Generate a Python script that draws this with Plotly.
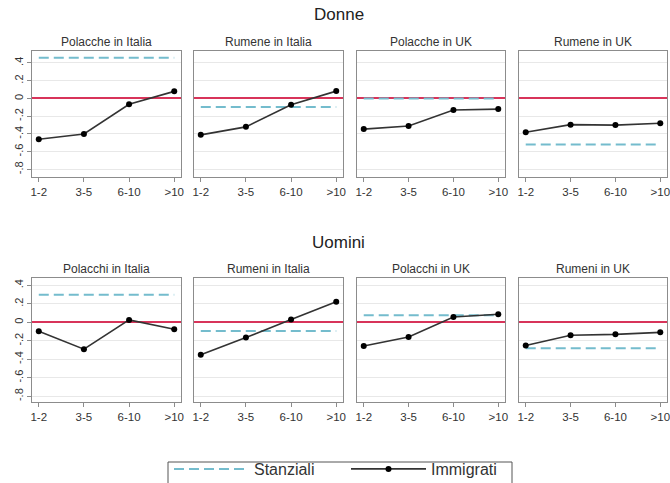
import plotly.graph_objects as go

# ---- data ----
categories = ["1-2", "3-5", "6-10", ">10"]
group_titles = ["Donne", "Uomini"]
panels_donne = ["Polacche in Italia", "Rumene in Italia", "Polacche in UK", "Rumene in UK"]
panels_uomini = ["Polacchi in Italia", "Rumeni in Italia", "Polacchi in UK", "Rumeni in UK"]
stanziali_donne = [0.46, -0.095, 0.0, -0.52]
stanziali_uomini = [0.30, -0.093, 0.076, -0.28]
immigrati_donne_pol_ita = [-0.46, -0.40, -0.065, 0.08]
immigrati_donne_rum_ita = [-0.41, -0.32, -0.07, 0.083]
immigrati_donne_pol_uk = [-0.345, -0.31, -0.13, -0.12]
immigrati_donne_rum_uk = [-0.38, -0.295, -0.30, -0.28]
immigrati_uomini_pol_ita = [-0.097, -0.29, 0.026, -0.075]
immigrati_uomini_rum_ita = [-0.35, -0.165, 0.032, 0.224]
immigrati_uomini_pol_uk = [-0.255, -0.158, 0.058, 0.087]
immigrati_uomini_rum_uk = [-0.25, -0.14, -0.13, -0.108]
y_tickvals = [-0.8, -0.6, -0.4, -0.2, 0, 0.2, 0.4]
y_ticktext = ["-.8", "-.6", "-.4", "-.2", "0", ".2", ".4"]

rows = [
    dict(title=group_titles[0], panels=panels_donne, stanziali=stanziali_donne,
         immigrati=[immigrati_donne_pol_ita, immigrati_donne_rum_ita,
                    immigrati_donne_pol_uk, immigrati_donne_rum_uk]),
    dict(title=group_titles[1], panels=panels_uomini, stanziali=stanziali_uomini,
         immigrati=[immigrati_uomini_pol_ita, immigrati_uomini_rum_ita,
                    immigrati_uomini_pol_uk, immigrati_uomini_rum_uk]),
]

# ---- layout geometry (pixels) ----
W, H = 670, 483
col_px = [(32, 181), (194, 343), (357, 505), (519, 667)]
row_px = [(51, 177), (278, 402)]
row_yrange = [[-0.885, 0.535], [-0.862, 0.48]]
row_title_y = [14, 242]
panel_title_y = [42, 269]
legend_box_px = (168, 462, 512, 492)

FONT = "Liberation Sans, Arial, sans-serif"
TEAL = "#74bccd"
RED = "#d8345a"
BORDER = "#8c8c8c"
GRID = "#e8e8e8"

fig = go.Figure()
layout = dict(
    width=W, height=H,
    margin=dict(l=0, r=0, t=0, b=0, autoexpand=False),
    paper_bgcolor="white", plot_bgcolor="white",
    font=dict(family=FONT, color="#333333", size=10),
    annotations=[],
    shapes=[],
    showlegend=True,
)

k = 0
for r, row in enumerate(rows):
    y0, y1 = row_px[r]
    for c in range(4):
        k += 1
        xa = "x" if k == 1 else f"x{k}"
        ya = "y" if k == 1 else f"y{k}"
        x0, x1 = col_px[c]
        fig.add_trace(go.Scatter(
            x=categories, y=[row["stanziali"][c]] * len(categories),
            mode="lines", name="Stanziali",
            line=dict(color=TEAL, width=2, dash="10px,5px"),
            xaxis=xa, yaxis=ya, showlegend=(k == 1), legendrank=1,
        ))
        fig.add_trace(go.Scatter(
            x=categories, y=row["immigrati"][c],
            mode="lines+markers", name="Immigrati",
            line=dict(color="#333333", width=1.6),
            marker=dict(color="black", size=6),
            xaxis=xa, yaxis=ya, showlegend=(k == 1), legendrank=2,
        ))
        xkey = "xaxis" if k == 1 else f"xaxis{k}"
        ykey = "yaxis" if k == 1 else f"yaxis{k}"
        layout[xkey] = dict(
            domain=[x0 / W, x1 / W], anchor=ya, type="category",
            range=[-0.15, 3.15], showgrid=False, zeroline=False,
            showline=True, mirror=True, linecolor=BORDER, linewidth=1,
            ticks="outside", ticklen=4, tickcolor=BORDER,
            tickfont=dict(size=11.5, color="#333333"),
        )
        layout[ykey] = dict(
            domain=[1 - y1 / H, 1 - y0 / H], anchor=xa,
            range=row_yrange[r], tickvals=y_tickvals, ticktext=y_ticktext,
            showgrid=True, gridcolor=GRID, gridwidth=1,
            zeroline=True, zerolinecolor=RED, zerolinewidth=1.6,
            showline=True, mirror=True, linecolor=BORDER, linewidth=1,
            ticks="outside" if c == 0 else "", ticklen=4, tickcolor=BORDER,
            showticklabels=(c == 0), tickangle=-90,
            tickfont=dict(size=11, color="#333333"),
        )
        layout["annotations"].append(dict(
            text=row["panels"][c], xref="paper", yref="paper",
            x=(x0 + x1) / 2 / W, y=1 - panel_title_y[r] / H,
            xanchor="center", yanchor="middle", showarrow=False,
            font=dict(size=12, color="#333333"),
        ))
    layout["annotations"].append(dict(
        text=row["title"], xref="paper", yref="paper",
        x=339 / W, y=1 - row_title_y[r] / H,
        xanchor="center", yanchor="middle", showarrow=False,
        font=dict(size=17, color="#222222"),
    ))

# legend frame
bx0, by0, bx1, by1 = legend_box_px
layout["shapes"].append(dict(
    type="rect", xref="paper", yref="paper",
    x0=bx0 / W, x1=bx1 / W, y0=1 - by1 / H, y1=1 - by0 / H,
    line=dict(color="#555555", width=1), fillcolor="rgba(0,0,0,0)",
))

layout["legend"] = dict(
    orientation="h", x=169 / W, xanchor="left", y=1 - 452 / H, yanchor="top",
    borderwidth=0, bgcolor="rgba(0,0,0,0)",
    font=dict(size=16, color="#333333"), entrywidth=87, itemwidth=75,
    traceorder="normal",
)

fig.update_layout(**layout)
fig.write_html("out.html", config={"displayModeBar": False},
               post_script="document.body.style.margin='0';")
